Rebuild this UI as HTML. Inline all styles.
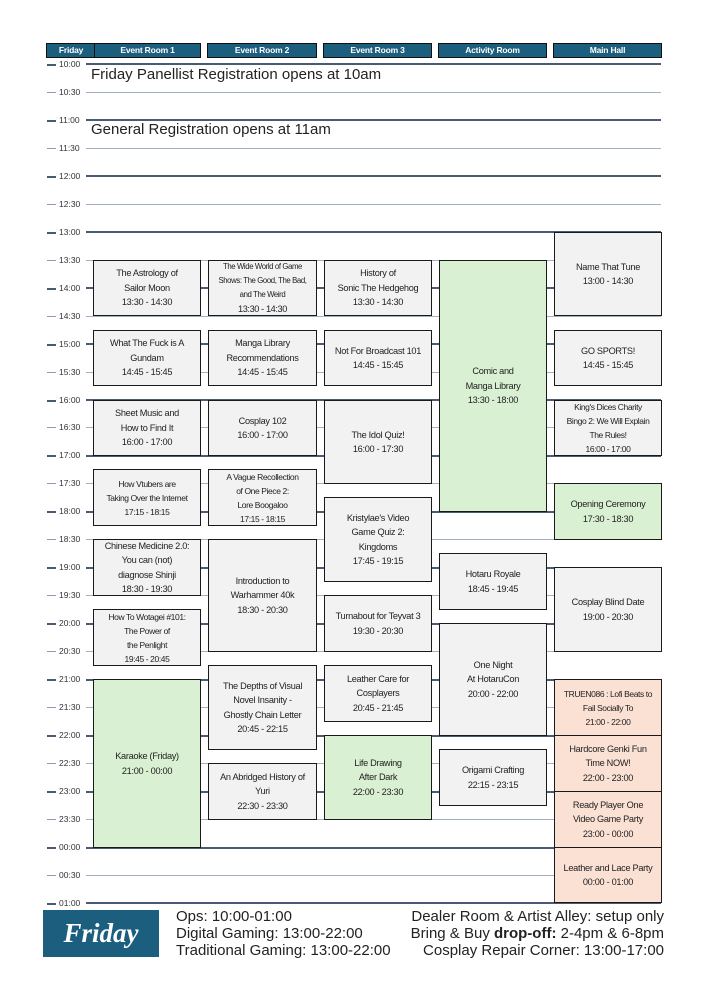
<!DOCTYPE html>
<html><head><meta charset="utf-8"><style>
*{margin:0;padding:0;box-sizing:border-box}
body{width:707px;height:1000px;background:#fff;position:relative;overflow:hidden;font-family:"Liberation Sans",sans-serif}
.h{position:absolute;top:43px;height:15px;background:#1b5e7e;border:1.5px solid #111;color:#fff;font:bold 8.5px "Liberation Sans",sans-serif;text-align:center;line-height:12px;letter-spacing:-0.2px}
.ln{position:absolute;left:86px;width:575px;height:1px;background:#a3b0c4}
.ln.hr{height:2px;background:#4a5a75}
.t{position:absolute;left:47px;font:8.5px "Liberation Sans",sans-serif;color:#333;line-height:10px}
.t b{display:inline-block;width:9px;height:1px;background:#8c9bb3;vertical-align:middle;margin-right:3px}
.t.hr b{height:2px;background:#4a5a75}
.b{position:absolute;background:#f2f2f2;border:1.8px solid #1a1a1a;display:flex;align-items:center;justify-content:center;text-align:center;font-size:9.2px;line-height:14.5px;color:#222;padding:0;white-space:nowrap;letter-spacing:-0.3px}
.g{background:#d9f0d2}.p{background:#fbe1d4}
.s{font-size:8.5px;line-height:14px;letter-spacing:-0.4px}
.big{position:absolute;left:91px;font:15px "Liberation Sans",sans-serif;color:#222}
.ft{position:absolute;font:15px "Liberation Sans",sans-serif;color:#222;line-height:17px}
</style></head><body>
<div class="h" style="left:46px;width:50px">Friday</div>
<div class="h" style="left:94px;width:107px">Event Room 1</div>
<div class="h" style="left:207px;width:110px">Event Room 2</div>
<div class="h" style="left:323px;width:109px">Event Room 3</div>
<div class="h" style="left:438px;width:109px">Activity Room</div>
<div class="h" style="left:553px;width:109px">Main Hall</div>

<div class="ln hr" style="top:63px"></div><div class="t hr" style="top:59px"><b></b>10:00</div>
<div class="ln" style="top:92px"></div><div class="t" style="top:87px"><b></b>10:30</div>
<div class="ln hr" style="top:119px"></div><div class="t hr" style="top:115px"><b></b>11:00</div>
<div class="ln" style="top:148px"></div><div class="t" style="top:143px"><b></b>11:30</div>
<div class="ln hr" style="top:175px"></div><div class="t hr" style="top:171px"><b></b>12:00</div>
<div class="ln" style="top:204px"></div><div class="t" style="top:199px"><b></b>12:30</div>
<div class="ln hr" style="top:231px"></div><div class="t hr" style="top:227px"><b></b>13:00</div>
<div class="ln" style="top:260px"></div><div class="t" style="top:255px"><b></b>13:30</div>
<div class="ln hr" style="top:287px"></div><div class="t hr" style="top:283px"><b></b>14:00</div>
<div class="ln" style="top:316px"></div><div class="t" style="top:311px"><b></b>14:30</div>
<div class="ln hr" style="top:343px"></div><div class="t hr" style="top:339px"><b></b>15:00</div>
<div class="ln" style="top:372px"></div><div class="t" style="top:367px"><b></b>15:30</div>
<div class="ln hr" style="top:399px"></div><div class="t hr" style="top:395px"><b></b>16:00</div>
<div class="ln" style="top:427px"></div><div class="t" style="top:422px"><b></b>16:30</div>
<div class="ln hr" style="top:455px"></div><div class="t hr" style="top:450px"><b></b>17:00</div>
<div class="ln" style="top:483px"></div><div class="t" style="top:478px"><b></b>17:30</div>
<div class="ln hr" style="top:511px"></div><div class="t hr" style="top:506px"><b></b>18:00</div>
<div class="ln" style="top:539px"></div><div class="t" style="top:534px"><b></b>18:30</div>
<div class="ln hr" style="top:567px"></div><div class="t hr" style="top:562px"><b></b>19:00</div>
<div class="ln" style="top:595px"></div><div class="t" style="top:590px"><b></b>19:30</div>
<div class="ln hr" style="top:623px"></div><div class="t hr" style="top:618px"><b></b>20:00</div>
<div class="ln" style="top:651px"></div><div class="t" style="top:646px"><b></b>20:30</div>
<div class="ln hr" style="top:679px"></div><div class="t hr" style="top:674px"><b></b>21:00</div>
<div class="ln" style="top:707px"></div><div class="t" style="top:702px"><b></b>21:30</div>
<div class="ln hr" style="top:735px"></div><div class="t hr" style="top:730px"><b></b>22:00</div>
<div class="ln" style="top:763px"></div><div class="t" style="top:758px"><b></b>22:30</div>
<div class="ln hr" style="top:791px"></div><div class="t hr" style="top:786px"><b></b>23:00</div>
<div class="ln" style="top:819px"></div><div class="t" style="top:814px"><b></b>23:30</div>
<div class="ln hr" style="top:847px"></div><div class="t hr" style="top:842px"><b></b>00:00</div>
<div class="ln" style="top:875px"></div><div class="t" style="top:870px"><b></b>00:30</div>
<div class="ln hr" style="top:902px"></div><div class="t hr" style="top:898px"><b></b>01:00</div>

<div class="big" style="top:66px">Friday Panellist Registration opens at 10am</div>
<div class="big" style="top:121px">General Registration opens at 11am</div>

<!-- ER1 -->
<div class="b" style="left:93px;width:108px;top:260px;height:56px">The Astrology of<br>Sailor Moon<br>13:30 - 14:30</div>
<div class="b" style="left:93px;width:108px;top:330px;height:56px">What The Fuck is A<br>Gundam<br>14:45 - 15:45</div>
<div class="b" style="left:93px;width:108px;top:400px;height:56px">Sheet Music and<br>How to Find It<br>16:00 - 17:00</div>
<div class="b" style="left:93px;width:108px;top:469px;height:57px"><span class="s">How Vtubers are<br>Taking Over the Internet<br>17:15 - 18:15</span></div>
<div class="b" style="left:93px;width:108px;top:539px;height:57px">Chinese Medicine 2.0:<br>You can (not)<br>diagnose Shinji<br>18:30 - 19:30</div>
<div class="b" style="left:93px;width:108px;top:609px;height:57px"><span class="s">How To Wotagei #101:<br>The Power of<br>the Penlight<br>19:45 - 20:45</span></div>
<div class="b g" style="left:93px;width:108px;top:679px;height:169px">Karaoke (Friday)<br>21:00 - 00:00</div>
<!-- ER2 -->
<div class="b" style="left:208px;width:109px;top:260px;height:56px"><span class="s" style="font-size:7.8px">The Wide World of Game<br>Shows: The Good, The Bad,<br>and The Weird<br><span style="font-size:9.2px">13:30 - 14:30</span></span></div>
<div class="b" style="left:208px;width:109px;top:330px;height:56px">Manga Library<br>Recommendations<br>14:45 - 15:45</div>
<div class="b" style="left:208px;width:109px;top:400px;height:56px">Cosplay 102<br>16:00 - 17:00</div>
<div class="b" style="left:208px;width:109px;top:469px;height:57px"><span class="s">A Vague Recollection<br>of One Piece 2:<br>Lore Boogaloo<br>17:15 - 18:15</span></div>
<div class="b" style="left:208px;width:109px;top:539px;height:113px">Introduction to<br>Warhammer 40k<br>18:30 - 20:30</div>
<div class="b" style="left:208px;width:109px;top:665px;height:85px">The Depths of Visual<br>Novel Insanity -<br>Ghostly Chain Letter<br>20:45 - 22:15</div>
<div class="b" style="left:208px;width:109px;top:763px;height:57px">An Abridged History of<br>Yuri<br>22:30 - 23:30</div>
<!-- ER3 -->
<div class="b" style="left:324px;width:108px;top:260px;height:56px">History of<br>Sonic The Hedgehog<br>13:30 - 14:30</div>
<div class="b" style="left:324px;width:108px;top:330px;height:56px">Not For Broadcast 101<br>14:45 - 15:45</div>
<div class="b" style="left:324px;width:108px;top:400px;height:84px">The Idol Quiz!<br>16:00 - 17:30</div>
<div class="b" style="left:324px;width:108px;top:497px;height:85px">Kristylae's Video<br>Game Quiz 2:<br>Kingdoms<br>17:45 - 19:15</div>
<div class="b" style="left:324px;width:108px;top:595px;height:57px">Turnabout for Teyvat 3<br>19:30 - 20:30</div>
<div class="b" style="left:324px;width:108px;top:665px;height:57px">Leather Care for<br>Cosplayers<br>20:45 - 21:45</div>
<div class="b g" style="left:324px;width:108px;top:735px;height:85px">Life Drawing<br>After Dark<br>22:00 - 23:30</div>
<!-- Activity -->
<div class="b g" style="left:439px;width:108px;top:260px;height:252px">Comic and<br>Manga Library<br>13:30 - 18:00</div>
<div class="b" style="left:439px;width:108px;top:553px;height:57px">Hotaru Royale<br>18:45 - 19:45</div>
<div class="b" style="left:439px;width:108px;top:623px;height:113px">One Night<br>At HotaruCon<br>20:00 - 22:00</div>
<div class="b" style="left:439px;width:108px;top:749px;height:57px">Origami Crafting<br>22:15 - 23:15</div>
<!-- Main Hall -->
<div class="b" style="left:554px;width:108px;top:232px;height:84px">Name That Tune<br>13:00 - 14:30</div>
<div class="b" style="left:554px;width:108px;top:330px;height:56px">GO SPORTS!<br>14:45 - 15:45</div>
<div class="b" style="left:554px;width:108px;top:400px;height:56px"><span class="s">King's Dices Charity<br>Bingo 2: We Will Explain<br>The Rules!<br>16:00 - 17:00</span></div>
<div class="b g" style="left:554px;width:108px;top:483px;height:57px">Opening Ceremony<br>17:30 - 18:30</div>
<div class="b" style="left:554px;width:108px;top:567px;height:85px">Cosplay Blind Date<br>19:00 - 20:30</div>
<div class="b p" style="left:554px;width:108px;top:679px;height:57px"><span class="s">TRUEN086 : Lofi Beats to<br>Fail Socially To<br>21:00 - 22:00</span></div>
<div class="b p" style="left:554px;width:108px;top:735px;height:57px">Hardcore Genki Fun<br>Time NOW!<br>22:00 - 23:00</div>
<div class="b p" style="left:554px;width:108px;top:791px;height:57px">Ready Player One<br>Video Game Party<br>23:00 - 00:00</div>
<div class="b p" style="left:554px;width:108px;top:847px;height:56px">Leather and Lace Party<br>00:00 - 01:00</div>

<!-- footer -->
<div style="position:absolute;left:43px;top:910px;width:116px;height:47px;background:#1b5e7e;color:#fff;font:italic bold 27px 'Liberation Serif',serif;text-align:center;line-height:47px">Friday</div>
<div class="ft" style="left:176px;top:908px">Ops: 10:00-01:00<br>Digital Gaming: 13:00-22:00<br>Traditional Gaming: 13:00-22:00</div>
<div class="ft" style="right:43px;top:908px;text-align:right">Dealer Room &amp; Artist Alley: setup only<br>Bring &amp; Buy <b>drop-off:</b> 2-4pm &amp; 6-8pm<br>Cosplay Repair Corner: 13:00-17:00</div>
</body></html>
